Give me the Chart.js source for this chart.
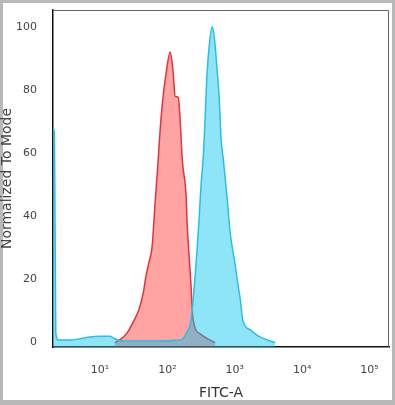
<!DOCTYPE html>
<html>
<head>
<meta charset="utf-8">
<script src="https://cdn.jsdelivr.net/npm/chart.js@4.4.1/dist/chart.umd.min.js"></script>
<style>
  html, body { margin: 0; padding: 0; background: #fff; }
  #wrap { width: 395px; height: 405px; }
</style>
</head>
<body>
<div id="wrap"><canvas id="histChart" width="395" height="405"></canvas></div>
<script>
// FITC-A intensity (x) and normalized-to-mode counts (y)
const isotypeX = [16.6, 20, 25, 31, 38, 44, 48, 54, 59, 66, 73, 76, 83.5, 96, 110, 121.6, 130, 145, 155, 166, 191, 195, 209, 224, 240, 309, 457, 513];
const isotypeY = [0, 1, 3, 6.5, 10.6, 16, 21, 26, 30, 45, 58, 64, 75, 85.6, 92, 85.6, 78, 77.6, 70, 58, 45, 39, 28, 18, 7.4, 2.7, 0.5, 0];

const stainedX = [2.0, 2.1, 2.2, 2.4, 3.5, 5, 7, 10, 14, 16.6, 20, 39, 78, 129, 170, 191, 224, 251, 275, 295, 316, 339, 351, 389, 427, 461, 494, 550, 589, 628, 676, 776, 851, 955, 1023, 1122, 1202, 1318, 1698, 2399, 3981];
const stainedY = [68, 66, 3, 0.8, 0.8, 1.2, 1.8, 2, 2, 1.2, 0.6, 0.5, 0.5, 0.7, 1.2, 3, 7, 18, 29, 39, 50, 58, 64, 85.6, 96, 100, 97, 85.6, 77, 64, 58, 45, 35, 28, 24, 18, 14, 7, 4, 1.7, 0];

const xTickValues = [10, 100, 1000, 10000, 100000];
const xTickLabels = ['10\u00b9', '10\u00b2', '10\u00b3', '10\u2074', '10\u2075'];
const yTickValues = [0, 20, 40, 60, 80, 100];

const toPoints = (xs, ys) => xs.map((x, i) => ({ x: x, y: ys[i] }));

const framePlugin = {
  id: 'frame',
  beforeDraw(chart) {
    const ctx = chart.ctx;
    ctx.save();
    ctx.fillStyle = '#b9b9b9';
    ctx.fillRect(0, 0, chart.width, chart.height);
    ctx.fillStyle = '#ffffff';
    ctx.fillRect(3, 3, chart.width - 6, chart.height - 8);
    ctx.restore();
  },
  afterDraw(chart) {
    const { ctx, chartArea } = chart;
    ctx.save();
    ctx.strokeStyle = '#666';
    ctx.lineWidth = 1;
    ctx.beginPath();
    ctx.moveTo(chartArea.left, chartArea.top + 0.5);
    ctx.lineTo(chartArea.right - 0.5, chartArea.top + 0.5);
    ctx.lineTo(chartArea.right - 0.5, chartArea.bottom);
    ctx.stroke();
    ctx.restore();
  }
};

new Chart(document.getElementById('histChart').getContext('2d'), {
  type: 'line',
  data: {
    datasets: [{
      label: 'Isotype',
      data: toPoints(isotypeX, isotypeY),
      borderColor: '#e2343c',
      backgroundColor: 'rgba(255, 0, 0, 0.36)',
      borderWidth: 1.5,
      fill: 'start',
      pointRadius: 0,
      cubicInterpolationMode: 'monotone',
      order: 1
    }, {
      label: 'Stained',
      data: toPoints(stainedX, stainedY),
      borderColor: '#2cbde6',
      backgroundColor: 'rgba(0, 195, 240, 0.44)',
      borderWidth: 1.5,
      fill: 'start',
      pointRadius: 0,
      cubicInterpolationMode: 'monotone',
      order: 0
    }]
  },
  options: {
    responsive: false,
    animation: false,
    devicePixelRatio: 1,
    layout: { padding: { left: 0, top: 10, right: 6, bottom: 5 } },
    plugins: {
      legend: { display: false },
      tooltip: { enabled: false }
    },
    scales: {
      x: {
        type: 'logarithmic',
        min: 2,
        max: 195000,
        afterBuildTicks: scale => { scale.ticks = xTickValues.map(v => ({ value: v })); },
        afterFit: scale => {
          scale.height = 53;
          scale.paddingLeft = 0;
          scale.paddingRight = 0;
        },
        grid: { display: false, drawTicks: false },
        border: { display: true, color: '#111', width: 1.5 },
        ticks: {
          callback: (value, index) => xTickLabels[index],
          color: '#444',
          padding: 17,
          maxRotation: 0,
          autoSkip: false,
          font: { family: 'DejaVu Sans', size: 11 }
        },
        title: {
          display: true,
          text: 'FITC-A',
          color: '#333',
          padding: 0,
          font: { family: 'DejaVu Sans', size: 14, lineHeight: 1 }
        }
      },
      y: {
        min: -1.4,
        max: 105.3,
        afterBuildTicks: scale => { scale.ticks = yTickValues.map(v => ({ value: v })); },
        afterFit: scale => {
          scale.width = 53;
          scale.paddingTop = 0;
          scale.paddingBottom = 0;
        },
        grid: { display: false, drawTicks: false },
        border: { display: true, color: '#111', width: 1.5 },
        ticks: {
          color: '#444',
          padding: 16,
          font: { family: 'DejaVu Sans', size: 11 }
        },
        title: {
          display: true,
          text: 'Normalized To Mode',
          color: '#444',
          padding: 0,
          font: { family: 'DejaVu Sans', size: 14, lineHeight: 1 }
        }
      }
    }
  },
  plugins: [framePlugin]
});
</script>
</body>
</html>
